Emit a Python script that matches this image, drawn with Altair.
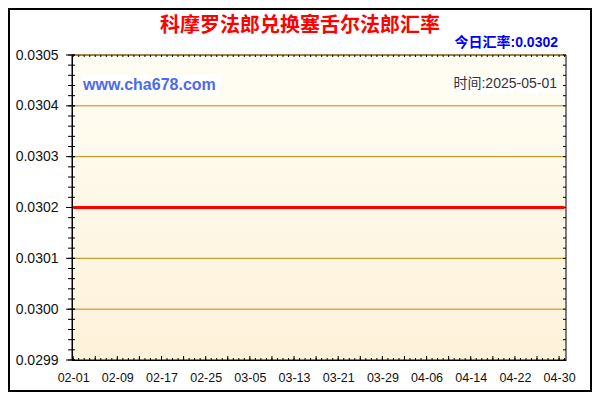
import altair as alt
import pandas as pd

TITLE = "科摩罗法郎兑换塞舌尔法郎汇率"
TODAY = "今日汇率:0.0302"
SITE = "www.cha678.com"
TIME = "时间:2025-05-01"

dates = ["2025-02-01", "2025-02-09", "2025-02-17", "2025-02-25", "2025-03-05",
         "2025-03-13", "2025-03-21", "2025-03-29", "2025-04-06", "2025-04-14",
         "2025-04-22", "2025-04-30", "2025-05-01"]
rates = [0.0302, 0.0302, 0.0302, 0.0302, 0.0302, 0.0302, 0.0302,
         0.0302, 0.0302, 0.0302, 0.0302, 0.0302, 0.0302]
y_ticks = [0.0299, 0.0300, 0.0301, 0.0302, 0.0303, 0.0304, 0.0305]
x_label_dates = ["2025-02-01", "2025-02-09", "2025-02-17", "2025-02-25", "2025-03-05",
                 "2025-03-13", "2025-03-21", "2025-03-29", "2025-04-06", "2025-04-14",
                 "2025-04-22", "2025-04-30"]

# axis tick positions (derived from the axis, not data)
x_minor = pd.date_range("2025-02-01", "2025-05-01", freq="D").strftime("%Y-%m-%d").tolist()
x_major = pd.date_range("2025-02-01", "2025-04-30", freq="4D").strftime("%Y-%m-%d").tolist()
y_minor = [round(0.0299 + i * 0.00002, 5) for i in range(31)]

W, H = 494, 305
TOTAL_W, TOTAL_H = 584, 384
PAD = {"left": 64, "top": 47, "right": TOTAL_W - 64 - W, "bottom": TOTAL_H - 47 - H}
FONT = "Liberation Sans, Arial, Noto Sans CJK SC, sans-serif"
CJK = "Liberation Sans, Noto Sans CJK SC, sans-serif"


def dt(s, hours=0):
    y, m, d = map(int, s.split("-"))
    return alt.DateTime(year=y, month=m, date=d, hours=hours, utc=True)


x_scale = alt.Scale(type="utc", domain=[dt("2025-01-31", 19), dt("2025-05-01", 6)])
y_scale = alt.Scale(domain=[0.0299, 0.0305], nice=False, zero=False)

x_axis = alt.Axis(values=[dt(s) for s in x_label_dates], format="%m-%d", title=None, orient="bottom",
                  grid=False, ticks=False, domainColor="black", labelFontSize=12.5,
                  labelColor="#111111", labelFont=FONT, labelPadding=11, zindex=1,
                  labelOverlap=False, labelFlush=False, labelBound=False)
y_axis = alt.Axis(values=y_ticks, format=".4f", title=None, orient="left", grid=False, ticks=False,
                  domainColor="black", labelFontSize=14, labelColor="#111111",
                  labelFont=FONT, labelPadding=14, zindex=1, labelOverlap=False,
                  labelFlush=False, labelBound=False)

one = pd.DataFrame({"k": [0]})

frame = alt.Chart(one).mark_rect(fillOpacity=0, stroke="black", strokeWidth=2).encode(
    x=alt.value(-63), x2=alt.value(TOTAL_W - 64 - 1), y=alt.value(-46), y2=alt.value(TOTAL_H - 47 - 1))

bg = alt.Chart(one).mark_rect(
    fill=alt.Gradient(gradient="linear",
                      stops=[alt.GradientStop(color="#FFFEF4", offset=0),
                             alt.GradientStop(color="#FEF1D9", offset=1)],
                      x1=0, x2=0, y1=0, y2=1),
    stroke="black", strokeWidth=1,
).encode(x=alt.value(0), x2=alt.value(W), y=alt.value(0), y2=alt.value(H))

grid = alt.Chart(pd.DataFrame({"rate": y_ticks})).mark_rule(color="#B8890F", strokeWidth=1).encode(
    y=alt.Y("rate:Q", scale=y_scale, axis=y_axis), x=alt.value(0), x2=alt.value(W))

# ticks
ymin_df = pd.DataFrame({"rate": y_minor})
ymaj_df = pd.DataFrame({"rate": y_ticks})
xmin_df = pd.DataFrame({"date": x_minor})
xmaj_df = pd.DataFrame({"date": x_major})

left_minor = alt.Chart(ymin_df).mark_rule(color="black").encode(
    y=alt.Y("rate:Q", scale=y_scale, axis=y_axis), x=alt.value(-4), x2=alt.value(3))
left_major = alt.Chart(ymaj_df).mark_rule(color="black").encode(
    y=alt.Y("rate:Q", scale=y_scale, axis=y_axis), x=alt.value(-6), x2=alt.value(3))
right_minor = alt.Chart(ymin_df).mark_rule(color="black").encode(
    y=alt.Y("rate:Q", scale=y_scale, axis=y_axis), x=alt.value(W - 3), x2=alt.value(W))
bottom_minor = alt.Chart(xmin_df).mark_rule(color="black").encode(
    x=alt.X("date:T", scale=x_scale, axis=x_axis), y=alt.value(H - 2), y2=alt.value(H))
bottom_major = alt.Chart(xmaj_df).mark_rule(color="black").encode(
    x=alt.X("date:T", scale=x_scale, axis=x_axis), y=alt.value(H - 4), y2=alt.value(H))
top_minor = alt.Chart(xmin_df).mark_rule(color="black").encode(
    x=alt.X("date:T", scale=x_scale, axis=x_axis), y=alt.value(0), y2=alt.value(2))

df = pd.DataFrame({"date": dates, "rate": rates})
line = alt.Chart(df).mark_line(color="#FF0000", strokeWidth=3).encode(
    x=alt.X("date:T", scale=x_scale, axis=x_axis),
    y=alt.Y("rate:Q", scale=y_scale, axis=y_axis),
)

site_box = alt.Chart(one).mark_rect(fill="white").encode(
    x=alt.value(10), x2=alt.value(149), y=alt.value(20), y2=alt.value(40))
time_box = alt.Chart(one).mark_rect(fill="white").encode(
    x=alt.value(378), x2=alt.value(488), y=alt.value(20), y2=alt.value(39))

title = alt.Chart(pd.DataFrame({"t": [TITLE]})).mark_text(
    font="Noto Sans CJK SC", fontSize=20, fontWeight="bold", color="#FF0000",
    align="center", baseline="middle").encode(
    text="t:N", x=alt.value(228), y=alt.value(-29.5))
today = alt.Chart(pd.DataFrame({"t": [TODAY]})).mark_text(
    font=CJK, fontSize=14, fontWeight="bold", color="#0000FF",
    align="right", baseline="middle").encode(
    text="t:N", x=alt.value(486), y=alt.value(-12.5))
site = alt.Chart(pd.DataFrame({"t": [SITE]})).mark_text(
    font=FONT, fontSize=16, fontWeight="bold", color="#4D69EE",
    align="left", baseline="middle").encode(
    text="t:N", x=alt.value(11), y=alt.value(30))
timet = alt.Chart(pd.DataFrame({"t": [TIME]})).mark_text(
    font=CJK, fontSize=14, color="#333333",
    align="right", baseline="middle").encode(
    text="t:N", x=alt.value(485), y=alt.value(29))

chart = alt.layer(
    bg, grid, site_box, time_box, site, timet,
    left_minor, left_major, right_minor, bottom_minor, bottom_major, top_minor,
    line, title, today, frame,
).properties(
    width=W, height=H, padding=PAD,
    autosize=alt.AutoSizeParams(type="none"),
    background="white",
).configure_view(strokeWidth=0)

chart.save("out.html", embed_options={"renderer": "svg", "actions": False})
